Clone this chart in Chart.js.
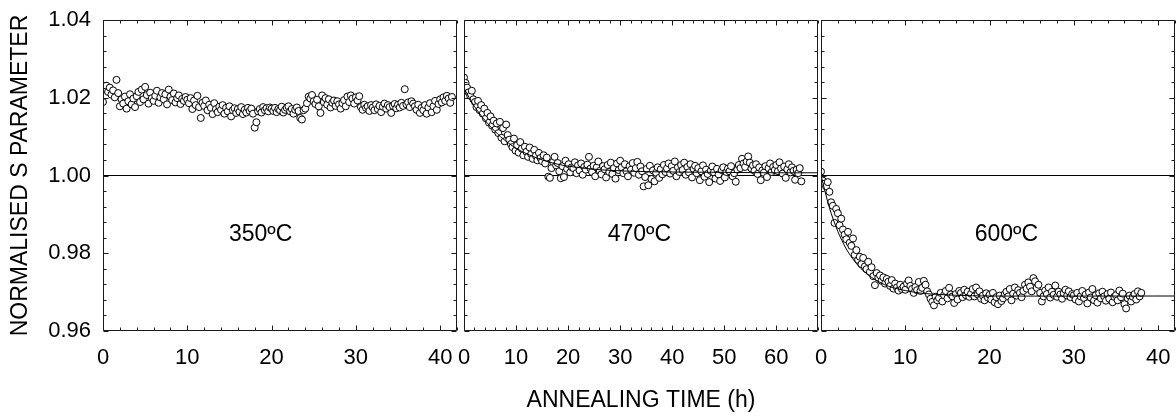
<!DOCTYPE html>
<html>
<head>
<meta charset="utf-8">
<script src="https://cdn.jsdelivr.net/npm/chart.js@4.4.1/dist/chart.umd.min.js"></script>
<style>
  html, body { margin: 0; padding: 0; background: #fff; }
  #wrap { position: relative; width: 1176px; height: 416px; }
  .panel { position: absolute; top: 0; }
</style>
</head>
<body>
<div id="wrap">
  <canvas class="panel" id="c1" width="462" height="416" style="left:0px"></canvas>
  <canvas class="panel" id="c2" width="367" height="416" style="left:455px"></canvas>
  <canvas class="panel" id="c3" width="364" height="416" style="left:812px"></canvas>
</div>
<script>
// measurement step (h) for each annealing run
const STEP_350 = 0.2;
const STEP_470 = 0.3;
const STEP_600 = 0.2;

// normalised S parameter, 350 C
const s350 = [
  1.0189, 1.0222, 1.0231, 1.0215, 1.0226, 1.0208, 1.0219, 1.0201, 1.0246, 1.0212,
  1.0178, 1.0196, 1.0185, 1.0203, 1.0172, 1.0191, 1.0209, 1.0183, 1.0198, 1.0176,
  1.0204, 1.0215, 1.0189, 1.0221, 1.0196, 1.0228, 1.0207, 1.0185, 1.0213, 1.0199,
  1.0192, 1.0205, 1.0218, 1.0187, 1.0201, 1.0212, 1.0196, 1.0209, 1.0183, 1.0221,
  1.0203, 1.0194, 1.0211, 1.0188, 1.0199, 1.0206, 1.0184, 1.0197, 1.0192, 1.0202,
  1.0195, 1.0186, 1.0199, 1.0171, 1.0193, 1.0181, 1.0205, 1.0176, 1.0148, 1.0187,
  1.0179, 1.0193, 1.0168, 1.0182, 1.0174, 1.0158, 1.0186, 1.0171, 1.0163, 1.0177,
  1.0169, 1.0181, 1.0159, 1.0174, 1.0165, 1.0178, 1.0152, 1.0168, 1.0173, 1.0161,
  1.0171, 1.0164, 1.0176, 1.0158, 1.0169, 1.0162, 1.0174, 1.0166, 1.0172, 1.0159,
  1.0123, 1.0137, 1.0165, 1.0171, 1.0162, 1.0176, 1.0168, 1.0173, 1.0165, 1.0175,
  1.0172, 1.0166, 1.0174, 1.0163, 1.0171, 1.0168, 1.0177, 1.0162, 1.0169, 1.0174,
  1.0178, 1.0165, 1.0171, 1.0159, 1.0169, 1.0175, 1.0166, 1.0148, 1.0144, 1.0168,
  1.0172, 1.0186, 1.0203, 1.0198, 1.0207, 1.0191, 1.0184, 1.0195, 1.0178, 1.0161,
  1.0206, 1.0189, 1.0199, 1.0182, 1.0196, 1.0175, 1.0187, 1.0193, 1.0179, 1.0191,
  1.0183, 1.0172, 1.0186, 1.0194, 1.0178, 1.0203, 1.0189, 1.0206, 1.0198, 1.0185,
  1.0201, 1.0193, 1.0204, 1.0176, 1.0169, 1.0182, 1.0174, 1.0178, 1.0166, 1.0181,
  1.0175, 1.0168, 1.0183, 1.0171, 1.0179, 1.0163, 1.0177, 1.0185, 1.0172, 1.0181,
  1.0176, 1.0161, 1.0179, 1.0184, 1.0173, 1.0182, 1.0175, 1.0187, 1.0179, 1.0222,
  1.0183, 1.0188, 1.0176, 1.0191, 1.0185, 1.0178, 1.0169, 1.0182, 1.0161, 1.0174,
  1.0168, 1.0181, 1.0159, 1.0175, 1.0186, 1.0163, 1.0178, 1.0192, 1.0169, 1.0184,
  1.0196, 1.0188, 1.0201, 1.0192, 1.0205, 1.0198, 1.0187, 1.0202
];

// normalised S parameter, 470 C
const s470 = [
  1.0252, 1.0238, 1.0226, 1.0214, 1.0205, 1.0218, 1.0196, 1.0189, 1.0176, 1.0192,
  1.0168, 1.0181, 1.0159, 1.0172, 1.0147, 1.0161, 1.0136, 1.0152, 1.0128, 1.0141,
  1.0118, 1.0134, 1.0109, 1.0138, 1.0097, 1.0122, 1.0088, 1.0131, 1.0104, 1.0092,
  1.0081, 1.0073, 1.0095, 1.0064, 1.0078, 1.0059, 1.0086, 1.0069, 1.0052, 1.0074,
  1.0061, 1.0048, 1.0072, 1.0055, 1.0043, 1.0066, 1.0051, 1.0039, 1.0058, 1.0045,
  1.0037, 1.0052, 1.0031, 1.0046, 0.9997, 0.9994, 1.0019, 1.0035, 1.0048, 1.0026,
  1.0032, 1.0011, 0.9993, 1.0024, 0.9996, 1.0038, 1.0017, 1.0029, 1.0008, 1.0021,
  1.0019, 1.0034, 1.0006, 1.0026, 1.0013, 1.0031, 1.0002, 1.0022, 1.0015, 1.0028,
  1.0048, 1.0018, 1.0009, 1.0025, 0.9998, 1.0021, 1.0036, 1.0012, 1.0003, 1.0024,
  1.0016, 0.9995, 1.0027, 1.0009, 1.0033, 1.0004, 1.0019, 0.9992, 1.0031, 1.0014,
  1.0038, 1.0021, 1.0006, 1.0029, 1.0011, 0.9998, 1.0024, 1.0015, 1.0032, 1.0007,
  1.0019, 1.0035, 1.0002, 1.0023, 1.0011, 0.9972, 0.9996, 1.0017, 0.9975, 1.0025,
  0.9991, 1.0013, 0.9985, 1.0007, 1.0021, 0.9994, 1.0016, 1.0003, 1.0027, 1.0009,
  1.0018, 1.0031, 1.0005, 1.0024, 1.0012, 1.0036, 0.9998, 1.0021, 1.0009, 1.0027,
  1.0014, 1.0033, 1.0002, 1.0022, 1.0008, 1.0029, 0.9995, 1.0017, 1.0025, 1.0006,
  1.0019, 0.9988, 1.0011, 1.0026, 0.9997, 1.0015, 1.0004, 0.9983, 1.0012, 1.0023,
  1.0008, 0.9992, 1.0017, 1.0003, 0.9986, 1.0014, 1.0021, 0.9995, 1.0009, 1.0018,
  1.0011, 1.0024, 0.9998, 1.0006, 0.9984, 1.0015, 1.0027, 1.0019, 1.0043, 1.0031,
  1.0022, 1.0036, 1.0049, 1.0033, 1.0018, 1.0026, 1.0012, 1.0029, 1.0004, 1.0021,
  0.9988, 1.0013, 1.0007, 1.0024, 0.9996, 1.0019, 1.0031, 1.0009, 1.0022, 1.0014,
  1.0027, 1.0011, 1.0034, 1.0018, 1.0005, 1.0023, 0.9994, 1.0016, 1.0029, 1.0008,
  1.0021, 1.0012, 0.9989, 1.0015, 1.0006, 1.0019, 0.9985
];

// normalised S parameter, 600 C
const s600 = [
  1.0010, 0.9987, 0.9979, 0.9972, 0.9983, 0.9958, 0.9931, 0.9922, 0.9878, 0.9914,
  0.9903, 0.9872, 0.9889, 0.9861, 0.9848, 0.9836, 0.9855, 0.9827, 0.9819, 0.9838,
  0.9796, 0.9808, 0.9783, 0.9791, 0.9772, 0.9788, 0.9766, 0.9759, 0.9778, 0.9752,
  0.9764, 0.9741, 0.9718, 0.9749, 0.9737, 0.9743, 0.9729, 0.9738, 0.9722, 0.9734,
  0.9727, 0.9716, 0.9731, 0.9709, 0.9722, 0.9712, 0.9704, 0.9719, 0.9708, 0.9714,
  0.9706, 0.9722, 0.9730, 0.9716, 0.9708, 0.9698, 0.9713, 0.9705, 0.9726, 0.9703,
  0.9711, 0.9729, 0.9719, 0.9702, 0.9694, 0.9683, 0.9675, 0.9666, 0.9688, 0.9679,
  0.9685, 0.9698, 0.9676, 0.9692, 0.9703, 0.9684, 0.9711, 0.9694, 0.9689, 0.9672,
  0.9695, 0.9681, 0.9703, 0.9698, 0.9687, 0.9706, 0.9692, 0.9701, 0.9688, 0.9696,
  0.9708, 0.9689, 0.9712, 0.9694, 0.9702, 0.9683, 0.9691, 0.9679, 0.9697, 0.9686,
  0.9693, 0.9681, 0.9698, 0.9674, 0.9687, 0.9669, 0.9691, 0.9677, 0.9684, 0.9695,
  0.9701, 0.9689, 0.9708, 0.9679, 0.9696, 0.9712, 0.9691, 0.9705, 0.9698, 0.9687,
  0.9703, 0.9719, 0.9709, 0.9725, 0.9714, 0.9702, 0.9736, 0.9728, 0.9711, 0.9719,
  0.9698, 0.9676, 0.9689, 0.9704, 0.9695, 0.9712, 0.9686, 0.9701, 0.9693, 0.9717,
  0.9688, 0.9701, 0.9694, 0.9683, 0.9697, 0.9706, 0.9691, 0.9702, 0.9687, 0.9695,
  0.9692, 0.9681, 0.9698, 0.9676, 0.9689, 0.9703, 0.9685, 0.9694, 0.9671, 0.9699,
  0.9686, 0.9708, 0.9679, 0.9692, 0.9673, 0.9697, 0.9684, 0.9701, 0.9689, 0.9678,
  0.9695, 0.9683, 0.9699, 0.9674, 0.9688, 0.9692, 0.9679, 0.9704, 0.9687, 0.9696,
  0.9669, 0.9658, 0.9684, 0.9691, 0.9676, 0.9688, 0.9695, 0.9681, 0.9702, 0.9689,
  0.9698
];

// fitted curves
const fit470Time = [0, 1, 2, 3, 4, 5, 6, 7, 8, 9, 10, 12, 14, 16, 18, 20, 25, 30, 35, 40, 50, 60, 68];
const fit470Val = [1.0225, 1.0200, 1.0178, 1.0159, 1.0142, 1.0127, 1.0113, 1.0100, 1.0089, 1.0079, 1.0070,
  1.0056, 1.0045, 1.0036, 1.0029, 1.0024, 1.0016, 1.0012, 1.0010, 1.0009, 1.0008, 1.0007, 1.0007];
const fit600Time = [0, 1, 2, 3, 4, 5, 6, 7, 8, 9, 10, 12, 14, 16, 20, 42];
const fit600Val = [1.0000, 0.9917, 0.9856, 0.9811, 0.9779, 0.9755, 0.9738, 0.9725, 0.9715, 0.9709, 0.9704,
  0.9697, 0.9694, 0.9692, 0.9690, 0.9690];

const tempLabels = ['350ºC', '470ºC', '600ºC'];
const xMax = [42, 68, 42];
const yTicks = [0.96, 0.98, 1.00, 1.02, 1.04];

const FONT = '"Liberation Sans", Arial, sans-serif';

const toPoints = (vals, step) => vals.map((v, i) => ({ x: +(i * step).toFixed(2), y: v }));
const pair = (xs, ys) => xs.map((x, i) => ({ x, y: ys[i] }));

// box, inward tick marks and temperature label
const frame = {
  id: 'frame',
  afterDraw(chart, args, opts) {
    const { ctx, chartArea: a, scales: { x, y } } = chart;
    const L = Math.round(a.left) + 0.5, R = Math.round(a.right) - 0.5;
    const T = Math.round(a.top) + 0.5, B = Math.round(a.bottom) - 0.5;
    ctx.save();
    ctx.strokeStyle = '#1a1a1a';
    ctx.lineWidth = 1;
    ctx.beginPath();
    x.ticks.forEach(t => {
      const px = Math.round(x.getPixelForValue(t.value)) + 0.5;
      const len = t.value % 10 === 0 ? 5 : 3;
      ctx.moveTo(px, B); ctx.lineTo(px, B - len);
      ctx.moveTo(px, T); ctx.lineTo(px, T + len);
    });
    y.ticks.forEach(t => {
      const py = Math.round(y.getPixelForValue(t.value)) + 0.5;
      const len = Math.round(t.value * 1000) % 20 === 0 ? 5 : 3;
      ctx.moveTo(L, py); ctx.lineTo(L + len, py);
      ctx.moveTo(R, py); ctx.lineTo(R - len, py);
    });
    ctx.rect(L, T, R - L, B - T);
    ctx.stroke();
    ctx.fillStyle = '#000';
    ctx.font = '23px ' + FONT;
    ctx.textAlign = 'center';
    ctx.textBaseline = 'middle';
    ctx.fillText(opts.text, x.getPixelForValue(opts.t), y.getPixelForValue(opts.v));
    ctx.restore();
  }
};

function makePanel(id, idx, cfg) {
  const datasets = [
    {
      type: 'line', data: [{ x: 0, y: 1 }, { x: xMax[idx], y: 1 }],
      borderColor: '#000', borderWidth: 1, pointRadius: 0, order: 3
    },
    {
      type: 'scatter', data: cfg.points,
      pointRadius: 3.5, pointBorderWidth: 1, pointHoverRadius: 3.5,
      pointBackgroundColor: '#fff', pointBorderColor: '#000', order: 2
    }
  ];
  if (cfg.fit) {
    datasets.push({
      type: 'line', data: cfg.fit, borderColor: '#000', borderWidth: 1,
      pointRadius: 0, tension: 0.3, order: 1
    });
  }
  return new Chart(document.getElementById(id), {
    type: 'scatter',
    data: { datasets },
    plugins: [frame],
    options: {
      responsive: false,
      animation: false,
      events: [],
      layout: { autoPadding: false, padding: { top: 20, right: cfg.padRight, left: 0, bottom: 0 } },
      plugins: {
        legend: { display: false },
        tooltip: { enabled: false },
        frame: { text: tempLabels[idx], t: cfg.labelT, v: 0.9848 }
      },
      scales: {
        x: {
          type: 'linear', min: 0, max: xMax[idx],
          afterFit: s => { s.height = 85; },
          grid: { display: false, drawTicks: true, tickLength: 14 },
          border: { display: false },
          ticks: {
            stepSize: 2, padding: 0, maxRotation: 0, autoSkip: false,
            color: '#000', font: { family: FONT, size: 22 },
            callback: v => (v % 10 === 0 && v <= 60) ? String(v) : ''
          },
          title: {
            display: !!cfg.xTitle, text: cfg.xTitle || '', color: '#000',
            font: { family: FONT, size: 23 }, padding: { top: 0, bottom: 2 }
          }
        },
        y: {
          type: 'linear', min: 0.96, max: 1.04,
          afterFit: s => { s.width = cfg.yWidth; },
          grid: { display: false, drawTicks: true, tickLength: 12 },
          border: { display: false },
          ticks: {
            display: !!cfg.yLabels, stepSize: 0.004, padding: 0, autoSkip: false,
            color: '#000', font: { family: FONT, size: 22 },
            callback: v => {
              const m = Math.round(v * 1000);
              return yTicks.some(t => Math.round(t * 1000) === m) ? v.toFixed(2) : '';
            }
          },
          title: {
            display: !!cfg.yTitle, text: cfg.yTitle || '', color: '#000',
            font: { family: FONT, size: 23 }, padding: { top: 7, bottom: 0 }
          }
        }
      }
    }
  });
}

makePanel('c1', 0, {
  points: toPoints(s350, STEP_350), yWidth: 103, padRight: 5, labelT: 18.7,
  yLabels: true, yTitle: 'NORMALISED S PARAMETER'
});
makePanel('c2', 1, {
  points: toPoints(s470, STEP_470), fit: pair(fit470Time, fit470Val), yWidth: 9, padRight: 4,
  labelT: 33.7, xTitle: 'ANNEALING TIME (h)'
});
makePanel('c3', 2, {
  points: toPoints(s600, STEP_600), fit: pair(fit600Time, fit600Val), yWidth: 9, padRight: 1,
  labelT: 22
});
</script>
</body>
</html>
